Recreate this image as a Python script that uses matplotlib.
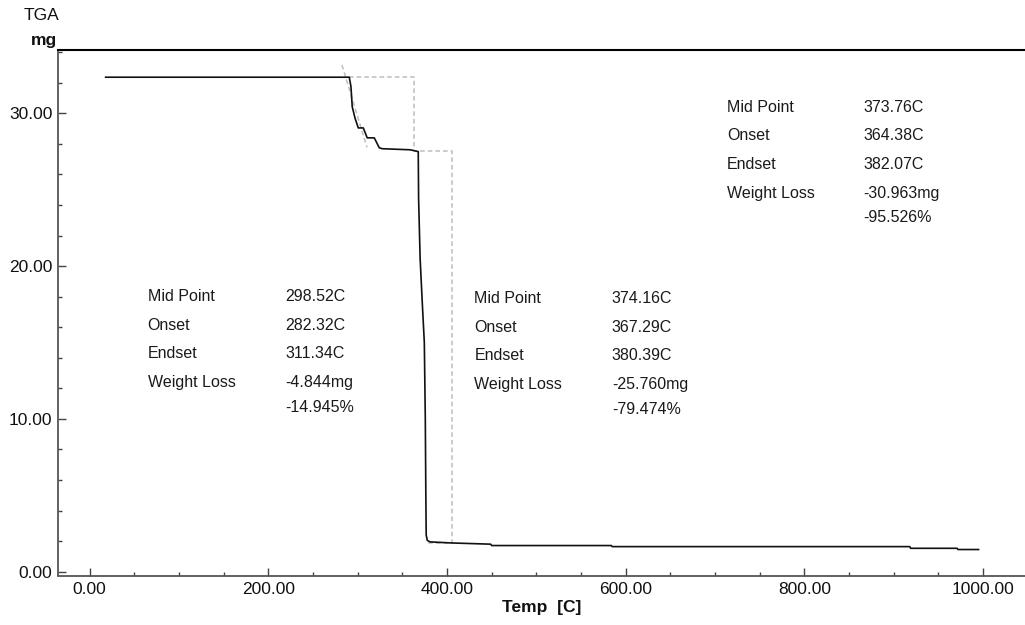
#!/usr/bin/env python3
"""TGA weight-loss curve with onset/endset construction and step summaries."""

import matplotlib
matplotlib.use("Agg")
import matplotlib.pyplot as plt
from matplotlib.ticker import MultipleLocator, FormatStrFormatter


# Sample weight (mg) vs temperature (C).
temp_c = [18, 290.7, 292.6, 294.0, 297.1, 300.8, 306.4, 310.8, 318.7, 324.3,
          327.6, 358.9, 367.9, 368.3, 370.0, 372.5, 374.7, 375.8, 376.4, 376.8,
          378.0, 381.0, 405.0, 449.0, 450.0, 584.0, 585.0, 918.0, 919.0, 971.0,
          972.0, 995.0]
weight_mg = [32.36, 32.36, 31.74, 30.43, 29.69, 29.04, 29.04, 28.39, 28.39, 27.74,
             27.68, 27.61, 27.49, 24.4, 20.5, 17.5, 15.0, 10.0, 5.0, 2.4,
             2.05, 1.95, 1.88, 1.80, 1.71, 1.71, 1.64, 1.64, 1.53, 1.53,
             1.45, 1.45]

# Grey construction lines (tangent + step box).
tangent_t = [282.5, 310.5]
tangent_w = [33.16, 27.77]
box_t = [290.7, 362.7, 362.7, 405.6, 405.6, 376.8]
box_w = [32.37, 32.37, 27.54, 27.54, 1.88, 1.88]

# Step analysis results.
row_names = ["Mid Point", "Onset", "Endset", "Weight Loss", ""]
step1 = ["298.52C", "282.32C", "311.34C", "-4.844mg", "-14.945%"]
step2 = ["374.16C", "367.29C", "380.39C", "-25.760mg", "-79.474%"]
total = ["373.76C", "364.38C", "382.07C", "-30.963mg", "-95.526%"]

TEXT = "#1a1a1a"
FONT = ["Liberation Sans", "DejaVu Sans"]


def add_block(ax, x_name, x_val, y_top, values):
    offsets = [0, 1.865, 3.73, 5.6, 7.23]
    for name, val, dy in zip(row_names, values, offsets):
        if name:
            ax.text(x_name, y_top - dy, name, fontsize=11.5, color=TEXT, va="center", ha="left")
        ax.text(x_val, y_top - dy, val, fontsize=11.5, color=TEXT, va="center", ha="left")


def main():
    plt.rcParams["font.family"] = FONT
    fig = plt.figure(figsize=(10.25, 6.25), dpi=100)
    ax = fig.add_axes([58 / 1025, 1 - 575.5 / 625, 1 - 58 / 1025, (575.5 - 50) / 625])

    ax.plot(box_t, box_w, color="#bdbdbd", linestyle=(0, (3, 2)), linewidth=1.1)
    ax.plot(tangent_t, tangent_w, color="#bdbdbd", linestyle=(0, (3, 2)), linewidth=1.1)
    ax.plot(temp_c, weight_mg, color="#111111", linewidth=1.2)

    ax.set_xlim(-35.3, 1047)
    ax.set_ylim(-0.25, 34.14)

    ax.xaxis.set_major_locator(MultipleLocator(200))
    ax.xaxis.set_minor_locator(MultipleLocator(50))
    ax.yaxis.set_major_locator(MultipleLocator(10))
    ax.yaxis.set_minor_locator(MultipleLocator(2))
    ax.xaxis.set_major_formatter(FormatStrFormatter("%.2f"))
    ax.yaxis.set_major_formatter(FormatStrFormatter("%.2f"))

    ax.tick_params(which="both", direction="in", color="#444444", width=1.0,
                   labelsize=12.5, labelcolor="#111111")
    ax.tick_params(which="major", length=6, pad=4)
    ax.tick_params(which="minor", length=3)
    ax.tick_params(axis="x", which="major", pad=5)

    ax.spines["right"].set_visible(False)
    ax.spines["left"].set_color("#555555")
    ax.spines["bottom"].set_color("#555555")
    ax.spines["left"].set_linewidth(1.3)
    ax.spines["bottom"].set_linewidth(1.3)
    ax.spines["top"].set_color("black")
    ax.spines["top"].set_linewidth(1.5)

    ax.set_xlabel("Temp  [C]", fontsize=12.5, fontweight="bold", color="#111111", labelpad=2)

    add_block(ax, 65, 219, 17.98, step1)
    add_block(ax, 430.6, 584.7, 17.86, step2)
    add_block(ax, 713.5, 865.7, 30.38, total)

    fig.text(42 / 1025, 1 - 16 / 625, "TGA", fontsize=12.5, color="#111111", ha="center", va="center")
    fig.text(57 / 1025, 1 - 40 / 625, "mg", fontsize=12.5, fontweight="bold", color="#111111",
             ha="right", va="center")

    fig.savefig("out.png", dpi=100, facecolor="white")
    plt.close(fig)


if __name__ == "__main__":
    main()
